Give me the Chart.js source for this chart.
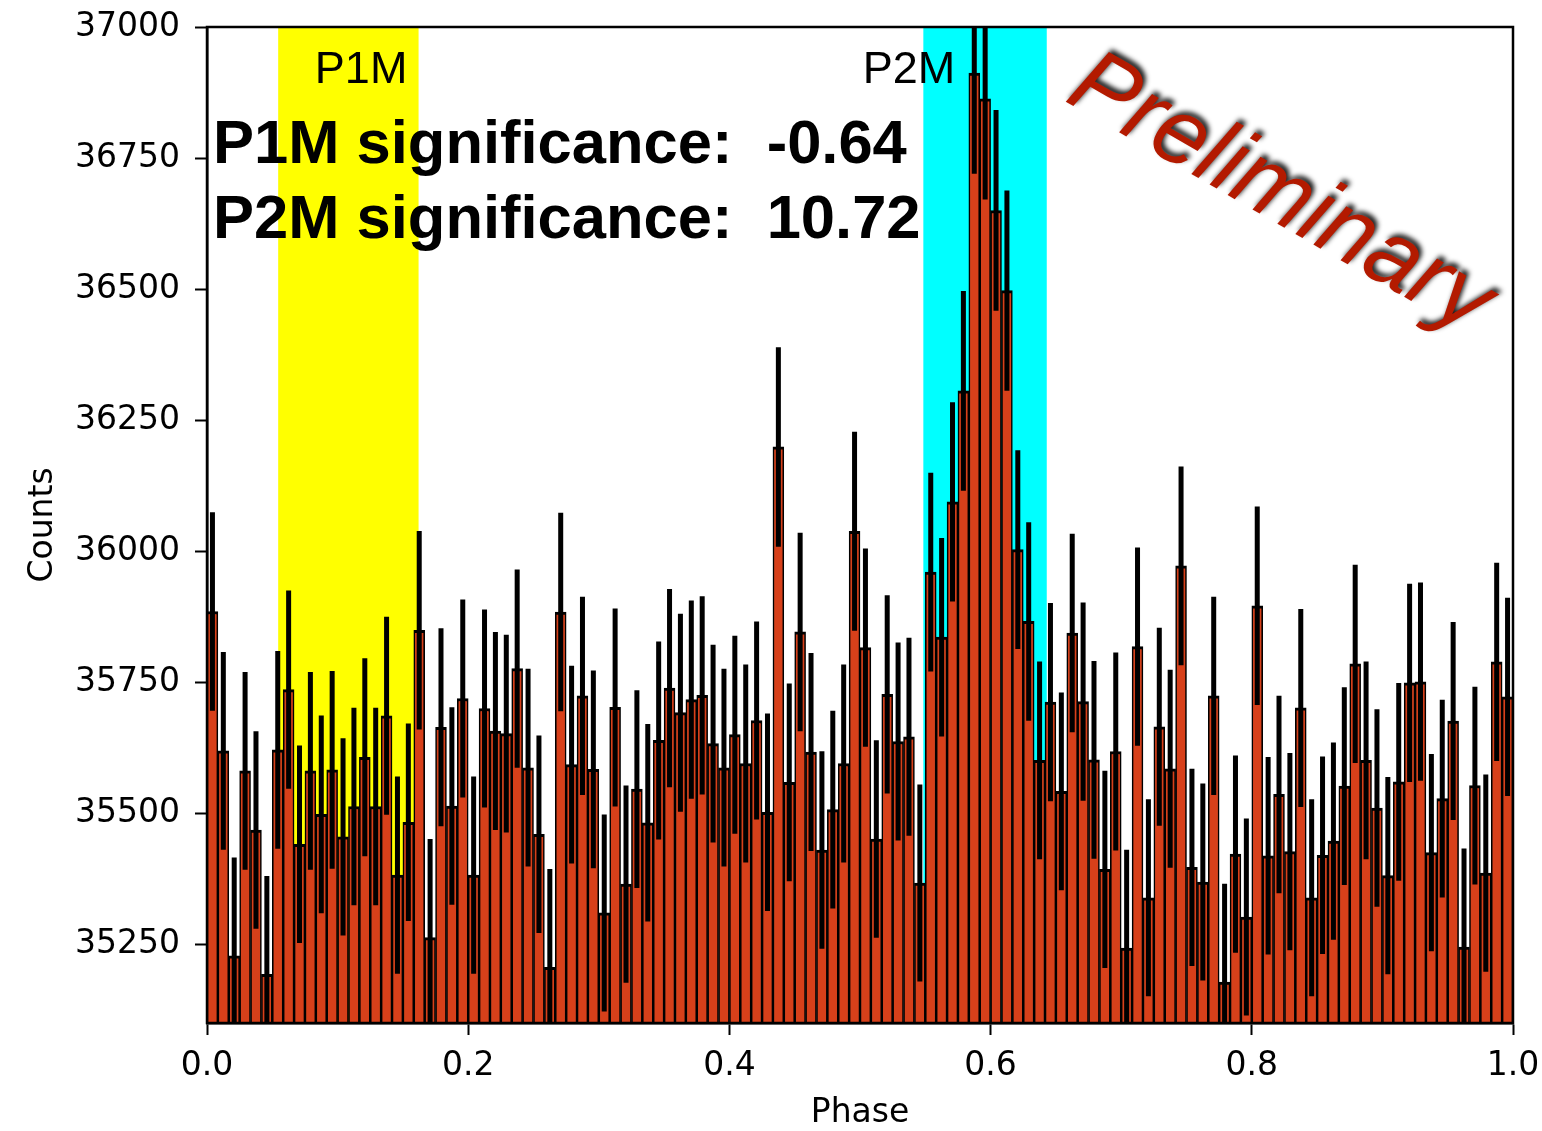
<!DOCTYPE html>
<html>
<head>
<meta charset="utf-8">
<script src="https://cdn.jsdelivr.net/npm/chart.js@4.4.0/dist/chart.umd.min.js"></script>
<style>
  html, body { margin: 0; padding: 0; background: #fff; }
  #wrap { width: 1542px; height: 1131px; position: relative; }
</style>
</head>
<body>
<div id="wrap"><canvas id="phaseChart"></canvas></div>
<script>
// counts per phase bin (120 bins from 0 to 1)
const N_BINS = 120;
const COUNTS = [
  35885, 35619, 35228, 35581, 35468, 35193, 35621, 35736, 35441, 35581,
  35498, 35583, 35455, 35513, 35607, 35513, 35686, 35382, 35483, 35849,
  35263, 35664, 35514, 35719, 35382, 35700, 35657, 35652, 35776, 35587,
  35460, 35206, 35884, 35593, 35724, 35584, 35310, 35702, 35365, 35546,
  35482, 35639, 35739, 35692, 35717, 35725, 35633, 35587, 35650, 35595,
  35677, 35502, 36199, 35559, 35846, 35617, 35430, 35507, 35595, 36038,
  35816, 35451, 35727, 35637, 35646, 35367, 35960, 35836, 36094, 36306,
  36912, 36863, 36650, 36497, 36003, 35866, 35601, 35712, 35542, 35844,
  35713, 35602, 35393, 35618, 35243, 35818, 35339, 35665, 35585, 35972,
  35397, 35369, 35724, 35178, 35422, 35302, 35896, 35419, 35536, 35427,
  35701, 35339, 35420, 35447, 35552, 35785, 35601, 35510, 35381, 35560,
  35749, 35751, 35425, 35528, 35676, 35245, 35553, 35386, 35789, 35722
];

const X_TICKS = [0.0, 0.2, 0.4, 0.6, 0.8, 1.0];
const Y_TICKS = [35250, 35500, 35750, 36000, 36250, 36500, 36750, 37000];
const Y_MIN = 35100;
const Y_MAX = 37000;

// peak regions
const BAND_NAMES = ['P1M', 'P2M'];
const BAND_START = [0.0545, 0.5485];
const BAND_END = [0.162, 0.643];
const BAND_LABEL_AT = [0.118, 0.5375];
const BAND_COLORS = ['#ffff00', '#00ffff'];
const SIGNIFICANCE = [-0.64, 10.72];

// bin centres and poisson errors
const binCenters = COUNTS.map((_, i) => (i + 0.5) / N_BINS);
const errors = COUNTS.map(c => Math.sqrt(c));

const barData = COUNTS.map((c, i) => ({ x: binCenters[i], y: c }));
const errData = COUNTS.map((c, i) => ({ x: binCenters[i], y: [c - errors[i], c + errors[i]] }));

// shaded bands behind the bars
const bandsPlugin = {
  id: 'bands',
  beforeDatasetsDraw(chart) {
    const { ctx, chartArea, scales } = chart;
    ctx.save();
    BAND_NAMES.forEach((name, i) => {
      const x0 = scales.x.getPixelForValue(BAND_START[i]);
      const x1 = scales.x.getPixelForValue(BAND_END[i]);
      ctx.fillStyle = BAND_COLORS[i];
      ctx.fillRect(x0, chartArea.top, x1 - x0, chartArea.bottom - chartArea.top);
    });
    ctx.restore();
  }
};

// frame, labels and the text on top
const overlayPlugin = {
  id: 'overlay',
  afterDatasetsDraw(chart) {
    const { ctx, chartArea, scales } = chart;
    ctx.save();

    // band names
    ctx.fillStyle = '#000';
    ctx.font = '45px "Liberation Sans", Arial, sans-serif';
    ctx.textAlign = 'center';
    ctx.textBaseline = 'alphabetic';
    BAND_NAMES.forEach((name, i) => {
      ctx.fillText(name, scales.x.getPixelForValue(BAND_LABEL_AT[i]), chartArea.top + 56);
    });

    // significance lines
    ctx.font = 'bold 61.5px "Liberation Sans", Arial, sans-serif';
    ctx.textAlign = 'left';
    BAND_NAMES.forEach((name, i) => {
      const txt = name + ' significance:  ' + SIGNIFICANCE[i].toFixed(2);
      ctx.fillText(txt, chartArea.left + 6, chartArea.top + 136 + i * 75);
    });

    // frame
    ctx.strokeStyle = '#000';
    ctx.lineWidth = 2.5;
    ctx.strokeRect(chartArea.left, chartArea.top, chartArea.right - chartArea.left, chartArea.bottom - chartArea.top);

    // watermark
    ctx.translate(chartArea.right - 233, chartArea.top + 168);
    ctx.rotate(30 * Math.PI / 180);
    ctx.font = 'italic 94px "Liberation Sans", Arial, sans-serif';
    ctx.textAlign = 'center';
    ctx.textBaseline = 'middle';
    ctx.shadowColor = 'rgba(0,0,0,0.9)';
    ctx.shadowBlur = 5;
    ctx.shadowOffsetX = 3;
    ctx.shadowOffsetY = -3;
    ctx.fillStyle = '#b31a00';
    ctx.fillText('Preliminary', 0, 0);
    ctx.restore();
  }
};

const tickFont = { family: '"DejaVu Sans", sans-serif', size: 33 };

const chart = new Chart(document.getElementById('phaseChart'), {
  type: 'bar',
  data: {
    datasets: [
      {
        label: 'errors',
        data: errData,
        backgroundColor: '#000',
        borderWidth: 0,
        barPercentage: 0.46,
        categoryPercentage: 1,
        grouped: false,
        clip: 0,
        order: 0
      },
      {
        label: 'counts',
        data: barData,
        backgroundColor: '#d7401a',
        borderColor: '#000',
        borderWidth: { top: 3, left: 1.6, right: 1.6, bottom: 0 },
        borderSkipped: 'start',
        base: 35000,
        barPercentage: 1,
        categoryPercentage: 1,
        grouped: false,
        clip: 0,
        order: 1
      }
    ]
  },
  options: {
    responsive: true,
    maintainAspectRatio: false,
    animation: false,
    events: [],
    layout: { padding: { top: 27, right: 29, bottom: 0, left: 0 } },
    plugins: {
      legend: { display: false },
      tooltip: { enabled: false }
    },
    scales: {
      x: {
        type: 'linear',
        min: 0,
        max: 1,
        offset: false,
        afterBuildTicks: s => { s.ticks = X_TICKS.map(v => ({ value: v })); },
        afterFit: s => { s.height = 108; s.paddingLeft = 0; s.paddingRight = 0; },
        ticks: {
          color: '#000',
          font: tickFont,
          padding: 12,
          maxRotation: 0,
          callback: v => Number(v).toFixed(1)
        },
        grid: { offset: false, drawOnChartArea: false, drawTicks: true, tickLength: 12, tickWidth: 2, tickColor: '#000' },
        border: { display: true, color: '#000', width: 2.5 },
        title: { display: true, text: 'Phase', color: '#000', font: tickFont, padding: { top: 0, bottom: -2 } }
      },
      y: {
        type: 'linear',
        min: Y_MIN,
        max: Y_MAX,
        afterBuildTicks: s => { s.ticks = Y_TICKS.map(v => ({ value: v })); },
        afterFit: s => { s.width = 207; s.paddingTop = 0; s.paddingBottom = 0; },
        ticks: { color: '#000', font: tickFont, padding: 15, callback: v => String(v) },
        grid: { drawOnChartArea: false, drawTicks: true, tickLength: 12, tickWidth: 2, tickColor: '#000' },
        border: { display: true, color: '#000', width: 2.5 },
        title: { display: true, text: 'Counts', color: '#000', font: tickFont, padding: { top: 24, bottom: 0 } }
      }
    }
  },
  plugins: [bandsPlugin, overlayPlugin]
});
</script>
</body>
</html>
